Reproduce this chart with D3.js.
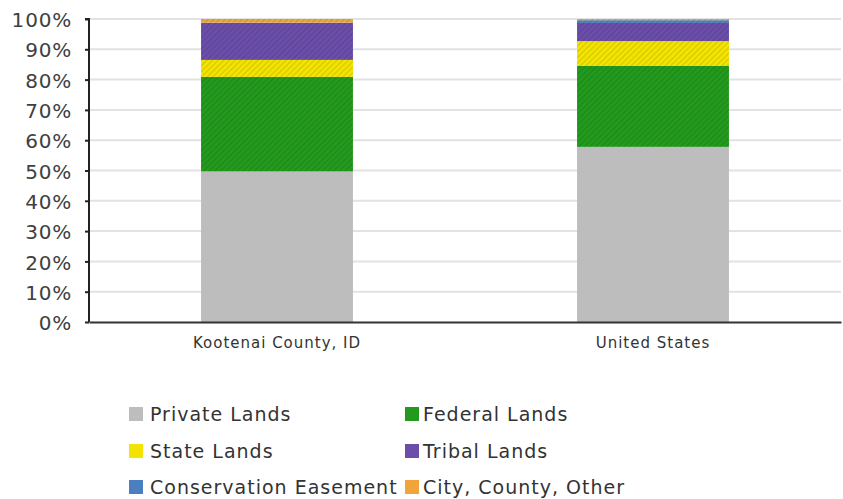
<!DOCTYPE html>
<html>
<head>
<meta charset="utf-8">
<script src="https://cdn.jsdelivr.net/npm/d3@7"></script>
<style>
  body { margin: 0; background: #fff; }
  .axis text { font-family: "DejaVu Sans", Verdana, sans-serif; fill: #404040; }
</style>
</head>
<body>
<svg class="viz" width="843" height="499"></svg>
<script>
// data (percent of land area)
var places = ["Kootenai County, ID", "United States"];
var landTypes = ["Private Lands", "Federal Lands", "State Lands", "Tribal Lands", "Conservation Easement", "City, County, Other"];
var privateLands = [49.7, 57.8];
var federalLands = [31.2, 26.7];
var stateLands = [5.6, 8.2];
var tribalLands = [12.2, 6.0];
var conservationEasement = [0.1, 0.9];
var cityCountyOther = [1.2, 0.4];
var yTicks = [0, 10, 20, 30, 40, 50, 60, 70, 80, 90, 100];

var colors = ["#bdbdbd", "#239a1e", "#f2e300", "#6a4ea9", "#4c7fc2", "#f0a43a"];

var svg = d3.select(".viz"),
    margin = {top: 19, right: 2, bottom: 177, left: 89},
    width = +svg.attr("width") - margin.left - margin.right,
    height = +svg.attr("height") - margin.top - margin.bottom;

// rows for the stack
var series = [privateLands, federalLands, stateLands, tribalLands, conservationEasement, cityCountyOther];
var rows = places.map(function (p, i) {
  var r = {place: p};
  landTypes.forEach(function (t, j) { r[t] = series[j][i]; });
  return r;
});
var stacked = d3.stack().keys(landTypes)(rows);

var xScale = d3.scaleBand()
  .domain(places)
  .range([0, width])
  .paddingInner(0.596)
  .paddingOuter(0.298);

var yScale = d3.scaleLinear()
  .domain([0, 100])
  .range([height, 0]);

var g = svg.append("g").attr("transform", "translate(" + margin.left + "," + margin.top + ")");

// patterns: faint diagonal hatch like the original
var defs = svg.append("defs");
colors.forEach(function (c, i) {
  var p = defs.append("pattern")
    .attr("id", "pat" + i)
    .attr("patternUnits", "userSpaceOnUse")
    .attr("width", 4).attr("height", 4)
    .attr("patternTransform", "rotate(45)");
  p.append("rect").attr("width", 4).attr("height", 4).attr("fill", c);
  if (i > 0) {
    p.append("rect").attr("width", 1).attr("height", 4)
      .attr("fill", d3.color(c).darker(0.4));
  }
});

// gridlines
g.selectAll(".grid")
  .data(yTicks.slice(1))
  .enter()
  .append("line")
  .attr("class", "grid")
  .attr("x1", 0)
  .attr("x2", width)
  .attr("y1", function (d) { return yScale(d); })
  .attr("y2", function (d) { return yScale(d); })
  .style("stroke", "#e2e2e2")
  .style("stroke-width", "2px");

// bars
g.selectAll(".layer")
  .data(stacked)
  .enter()
  .append("g")
  .attr("class", "layer")
  .attr("fill", function (d, i) { return "url(#pat" + i + ")"; })
  .selectAll("rect")
  .data(function (d) { return d; })
  .enter()
  .append("rect")
  .attr("x", function (d) { return xScale(d.data.place); })
  .attr("width", xScale.bandwidth())
  .attr("y", function (d) { return yScale(d[1]); })
  .attr("height", function (d) { return yScale(d[0]) - yScale(d[1]); });

// y axis
var yAxis = d3.axisLeft(yScale)
  .tickValues(yTicks)
  .tickSize(4)
  .tickPadding(13)
  .tickFormat(function (d) { return d + "%"; });

var yG = g.append("g").attr("class", "axis").call(yAxis);
yG.select(".domain").attr("d", "M-4,0H0V" + height).style("stroke", "#222").style("stroke-width", "2px");
yG.selectAll(".tick line").style("stroke", "#222").style("stroke-width", "2px");
yG.selectAll(".tick text")
  .style("font-size", "20px")
  .style("letter-spacing", "0.8px")
  .attr("dy", "0.38em");

// x axis
var xAxis = d3.axisBottom(xScale).tickSize(0).tickPadding(15);
var xG = g.append("g").attr("class", "axis")
  .attr("transform", "translate(0," + height + ")")
  .call(xAxis);
xG.select(".domain").style("stroke", "#333").style("stroke-width", "2px");
xG.selectAll(".tick text")
  .style("font-size", "15px")
  .style("letter-spacing", "1px")
  .style("fill", "#333");

// legend
var legendX = [129, 405];
var legendY = [414, 451, 487];
var legend = svg.selectAll(".legend")
  .data(landTypes)
  .enter()
  .append("g")
  .attr("class", "legend")
  .attr("transform", function (d, i) {
    return "translate(" + legendX[i % 2] + "," + legendY[Math.floor(i / 2)] + ")";
  });

legend.append("rect")
  .attr("x", 0)
  .attr("y", -7)
  .attr("width", 14)
  .attr("height", 14)
  .attr("fill", function (d, i) { return colors[i]; });

legend.append("text")
  .attr("x", function (d, i) { return i % 2 === 0 ? 21 : 18; })
  .attr("y", 0)
  .attr("dy", "0.36em")
  .attr("font-family", "DejaVu Sans, Verdana, sans-serif")
  .attr("font-size", "19px")
  .attr("letter-spacing", "1px")
  .attr("fill", "#333")
  .text(function (d) { return d; });
</script>
</body>
</html>
